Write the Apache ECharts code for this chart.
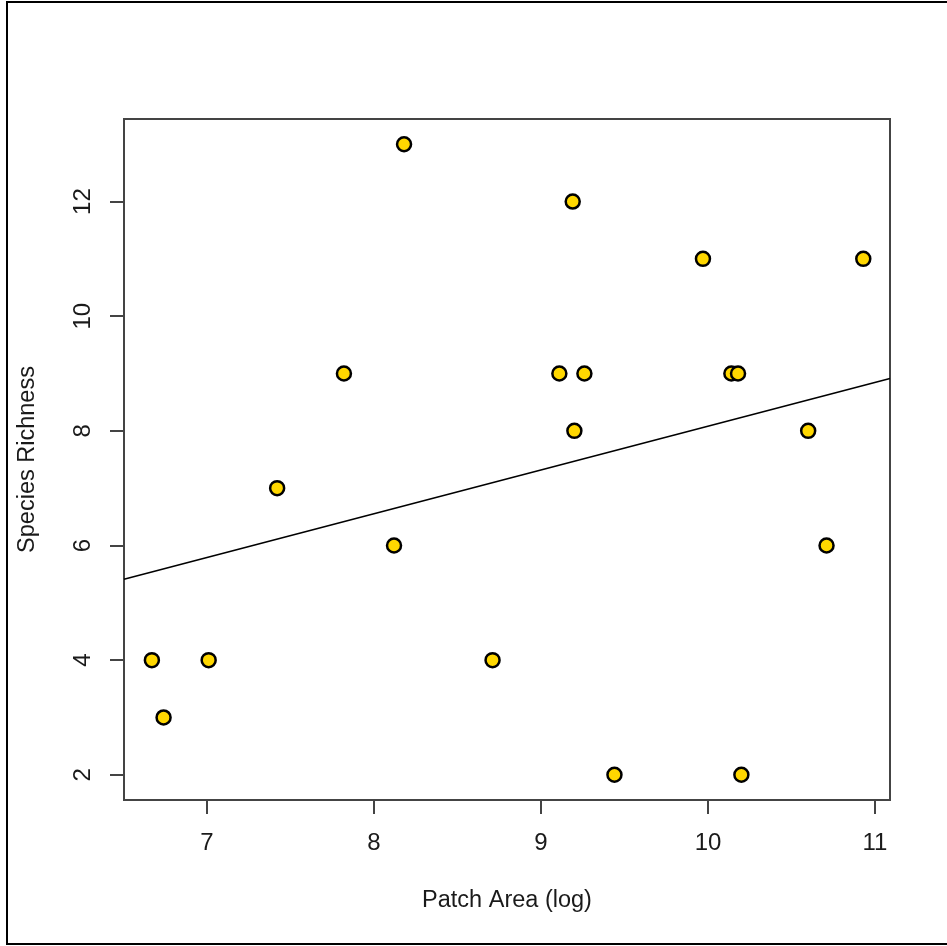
<!DOCTYPE html>
<html>
<head>
<meta charset="utf-8">
<script src="https://cdn.jsdelivr.net/npm/echarts@6/dist/echarts.min.js"></script>
<style>
html,body{margin:0;padding:0;background:#fff;}
#main{width:947px;height:946px;}
</style>
</head>
<body>
<div id="main"></div>
<script>
// Data
const patchArea = [6.67, 6.74, 7.01, 7.42, 7.82, 8.12, 8.18, 8.71, 9.11, 9.19, 9.20, 9.26, 9.44, 9.97, 10.14, 10.18, 10.20, 10.60, 10.71, 10.93];
const richness  = [4, 3, 4, 7, 9, 6, 13, 4, 9, 12, 8, 9, 2, 11, 9, 9, 2, 8, 6, 11];
const xTicks = [7, 8, 9, 10, 11];
const yTicks = [2, 4, 6, 8, 10, 12];
// Fitted line: y = intercept + slope * x
const fitIntercept = 0.45;
const fitSlope = 0.763;
const xRange = [6.503, 11.09];
const yRange = [1.56, 13.44];

const points = patchArea.map((x, i) => [x, richness[i]]);
const fitLine = xRange.map(x => [x, fitIntercept + fitSlope * x]);

const font = '"Liberation Sans", Arial, sans-serif';
const chart = echarts.init(document.getElementById('main'), null, {renderer: 'canvas'});
chart.setOption({
  animation: false,
  backgroundColor: '#fff',
  graphic: [{
    type: 'rect',
    shape: {x: 7, y: 2, width: 980, height: 942},
    style: {fill: 'none', stroke: '#000', lineWidth: 2},
    silent: true, z: 100
  }],
  grid: {
    left: 124, top: 119, width: 766, height: 681,
    show: true, borderColor: '#444', borderWidth: 2, backgroundColor: 'transparent'
  },
  xAxis: {
    type: 'value', min: xRange[0], max: xRange[1],
    name: 'Patch Area (log)', nameLocation: 'middle', nameGap: 89,
    nameTextStyle: {fontFamily: font, fontSize: 23.5, color: '#1a1a1a'},
    axisLine: {show: false},
    splitLine: {show: false},
    axisTick: {show: true, inside: false, length: 14, customValues: xTicks, lineStyle: {color: '#444', width: 2}},
    axisLabel: {customValues: xTicks, margin: 31, fontFamily: font, fontSize: 24, color: '#1a1a1a'}
  },
  yAxis: {
    type: 'value', min: yRange[0], max: yRange[1],
    name: 'Species Richness', nameLocation: 'middle', nameGap: 84, nameRotate: 90,
    nameTextStyle: {fontFamily: font, fontSize: 23.5, color: '#1a1a1a'},
    axisLine: {show: false},
    splitLine: {show: false},
    axisTick: {show: true, inside: false, length: 14, customValues: yTicks, lineStyle: {color: '#444', width: 2}},
    axisLabel: {customValues: yTicks, rotate: 90, margin: 29, fontFamily: font, fontSize: 24, color: '#1a1a1a'}
  },
  series: [{
    type: 'line',
    data: fitLine,
    showSymbol: false,
    symbol: 'none',
    lineStyle: {color: '#000', width: 1.6},
    clip: true,
    z: 2
  }, {
    type: 'scatter',
    data: points,
    symbol: 'circle',
    symbolSize: 14,
    itemStyle: {color: '#FFD700', borderColor: '#000', borderWidth: 2.5, opacity: 1},
    z: 3
  }]
});
</script>
</body>
</html>
